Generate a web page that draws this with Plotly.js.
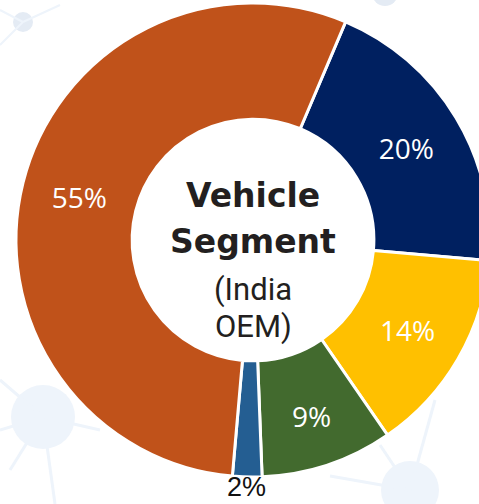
<!DOCTYPE html>
<html>
<head>
<meta charset="utf-8">
<script src="https://cdn.plot.ly/plotly-3.0.1.min.js"></script>
<style>
  html, body { margin: 0; padding: 0; background: #ffffff; overflow: hidden; }
  #chart { width: 506px; height: 504px; }
</style>
</head>
<body>
<div id="chart"></div>
<script>
// Data
const segments = ["Segment A", "Segment B", "Segment C", "Segment D", "Segment E"];
const shares = [20, 14, 9, 2, 55];
const sliceColors = ["#002060", "#FFC000", "#426A2E", "#245E92", "#C0521A"];
const insideLabel = [true, true, true, false, true];
const centerLines = ["Vehicle", "Segment", "(India", "OEM)"];

const W = 506, H = 504;
const CX = 253, CY = 240, R = 237;
const ROT = 23;
const px = x => x / W;
const py = y => 1 - y / H;

const trace = {
  type: "pie",
  labels: segments,
  values: shares,
  sort: false,
  direction: "clockwise",
  rotation: ROT,
  hole: 0.51,
  domain: { x: [0, 1], y: [py(CY + R), py(CY - R)] },
  marker: { colors: sliceColors, line: { color: "#ffffff", width: 3 } },
  texttemplate: insideLabel.map(v => v ? "%{percent}" : ""),
  textposition: "inside",
  insidetextorientation: "horizontal",
  insidetextfont: { family: "Open Sans, sans-serif", size: 28, color: "#ffffff" },
  hoverinfo: "label+percent",
  showlegend: false
};

const deco = "#EEF4FB";
const shapes = [
  { type: "circle", xref: "paper", yref: "paper", x0: px(11), x1: px(75), y0: py(449), y1: py(385), fillcolor: deco, line: { width: 0 }, layer: "below" },
  { type: "circle", xref: "paper", yref: "paper", x0: px(381), x1: px(439), y0: py(519), y1: py(461), fillcolor: deco, line: { width: 0 }, layer: "below" },
  { type: "circle", xref: "paper", yref: "paper", x0: px(13), x1: px(33), y0: py(32), y1: py(12), fillcolor: "#E4EBF4", line: { width: 0 }, layer: "below" },
  { type: "circle", xref: "paper", yref: "paper", x0: px(372), x1: px(398), y0: py(6), y1: py(-20), fillcolor: "#E4EBF4", line: { width: 0 }, layer: "below" },
  { type: "line", xref: "paper", yref: "paper", x0: px(43), y0: py(417), x1: px(0), y1: py(380), line: { color: deco, width: 3 }, layer: "below" },
  { type: "line", xref: "paper", yref: "paper", x0: px(43), y0: py(417), x1: px(0), y1: py(430), line: { color: deco, width: 3 }, layer: "below" },
  { type: "line", xref: "paper", yref: "paper", x0: px(43), y0: py(417), x1: px(10), y1: py(470), line: { color: deco, width: 3 }, layer: "below" },
  { type: "line", xref: "paper", yref: "paper", x0: px(43), y0: py(417), x1: px(55), y1: py(504), line: { color: deco, width: 3 }, layer: "below" },
  { type: "line", xref: "paper", yref: "paper", x0: px(43), y0: py(417), x1: px(100), y1: py(430), line: { color: deco, width: 3 }, layer: "below" },
  { type: "line", xref: "paper", yref: "paper", x0: px(410), y0: py(490), x1: px(435), y1: py(400), line: { color: deco, width: 3 }, layer: "below" },
  { type: "line", xref: "paper", yref: "paper", x0: px(410), y0: py(490), x1: px(380), y1: py(445), line: { color: deco, width: 3 }, layer: "below" },
  { type: "line", xref: "paper", yref: "paper", x0: px(410), y0: py(490), x1: px(330), y1: py(476), line: { color: deco, width: 3 }, layer: "below" },
  { type: "line", xref: "paper", yref: "paper", x0: px(23), y0: py(22), x1: px(0), y1: py(10), line: { color: deco, width: 2 }, layer: "below" },
  { type: "line", xref: "paper", yref: "paper", x0: px(23), y0: py(22), x1: px(60), y1: py(5), line: { color: deco, width: 2 }, layer: "below" },
  { type: "line", xref: "paper", yref: "paper", x0: px(23), y0: py(22), x1: px(0), y1: py(45), line: { color: deco, width: 2 }, layer: "below" }
];

// centre text
const centerY = [196, 241, 289, 326];
const annotations = centerLines.map((t, i) => ({
  text: t,
  xref: "paper", yref: "paper",
  x: px(CX), y: py(centerY[i]),
  xanchor: "center", yanchor: "middle",
  showarrow: false,
  borderpad: 0,
  font: i < 2
    ? { family: "DejaVu Sans, sans-serif", size: 33, weight: 700, color: "#231F20" }
    : { family: "Roboto, sans-serif", size: 31, weight: 400, color: "#231F20" }
}));

// outside label for the small slice, placed just past the outer edge at the slice's mid-angle
const total = shares.reduce((a, b) => a + b, 0);
shares.forEach((v, i) => {
  if (insideLabel[i]) return;
  const before = shares.slice(0, i).reduce((a, b) => a + b, 0);
  const mid = (ROT + (before + v / 2) / total * 360) * Math.PI / 180;
  const rr = R + 10;
  annotations.push({
    text: Math.round(v / total * 100) + "%",
    xref: "paper", yref: "paper",
    x: px(CX + rr * Math.sin(mid)), y: py(CY - rr * Math.cos(mid)),
    xanchor: "center", yanchor: "middle",
    showarrow: false,
    borderpad: 0,
    font: { family: "Liberation Sans, sans-serif", size: 27, color: "#111111" }
  });
});

const layout = {
  width: W, height: H,
  margin: { l: 0, r: 0, t: 0, b: 0 },
  paper_bgcolor: "#ffffff",
  plot_bgcolor: "#ffffff",
  showlegend: false,
  shapes: shapes,
  annotations: annotations
};

Plotly.newPlot("chart", [trace], layout, { displayModeBar: false, staticPlot: true });
</script>
</body>
</html>
